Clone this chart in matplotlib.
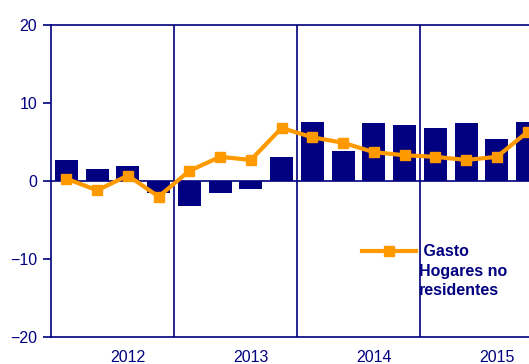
import numpy as np
import matplotlib
matplotlib.use("Agg")
from matplotlib import pyplot as plt

plt.rcParams['font.family'] = ['Liberation Sans', 'DejaVu Sans']

navy = "#000080"
orange = "#FF9900"

years = ["2012", "2013", "2014", "2015"]
# quarterly values, 2012 Q1 .. 2015 Q4
bar_values = [2.7, 1.5, 1.9, -1.6,
              -3.2, -1.6, -1.0, 3.1,
              7.6, 3.9, 7.4, 7.2,
              6.8, 7.4, 5.4, 7.6]
gasto_hogares = [0.3, -1.2, 0.7, -2.0,
                 1.3, 3.1, 2.7, 6.8,
                 5.6, 4.9, 3.7, 3.3,
                 3.1, 2.7, 3.1, 6.3]
legend_label = " Gasto\nHogares no\nresidentes"

fig = plt.figure(figsize=(5.29, 3.64), dpi=100)
# the plot runs a little past the right edge of the figure
ax = fig.add_axes([51/529, 27/364, 492/529, 312/364])

x = np.arange(len(bar_values))
ax.bar(x, bar_values, width=0.75, color=navy, zorder=2)
ax.axhline(0, color=navy, lw=1.2, zorder=3)
ax.plot(x, gasto_hogares, color=orange, lw=3, marker="s", markersize=7,
        zorder=4)

# year separators
for i in range(1, len(years)):
    ax.axvline(4*i - 0.5, color=navy, lw=1.2, zorder=1)

ax.set_xlim(-0.5, 15.5)
ax.set_ylim(-20, 20)
ax.set_yticks([-20, -10, 0, 10, 20])
ax.tick_params(axis="y", colors=navy, labelsize=11.5, length=6, width=1.2,
               direction="out", pad=4)
ax.set_xticks([])
for s in ax.spines.values():
    s.set_color(navy)
    s.set_linewidth(1.2)
ax.spines["right"].set_visible(False)

# year labels sit under the third quarter of each year
for i, yr in enumerate(years):
    ax.text(4*i + 2, -0.065, yr, transform=ax.get_xaxis_transform(),
            ha="center", va="center", color=navy, fontsize=11.5)

# legend drawn by hand next to the line sample
lx0, lx1, ly = (362-51)/492, (416-51)/492, (337-251)/312
ax.plot([lx0, lx1], [ly, ly], color=orange, lw=3, transform=ax.transAxes,
        clip_on=False, zorder=5)
ax.plot([(lx0+lx1)/2], [ly], color=orange, marker="s", markersize=7,
        transform=ax.transAxes, clip_on=False, zorder=5)
ax.text((419-51)/492, (337-244)/312, legend_label, transform=ax.transAxes,
        ha="left", va="top", color=navy, fontsize=11.5, fontweight="bold",
        linespacing=1.38)

fig.savefig("out.png", dpi=100)
